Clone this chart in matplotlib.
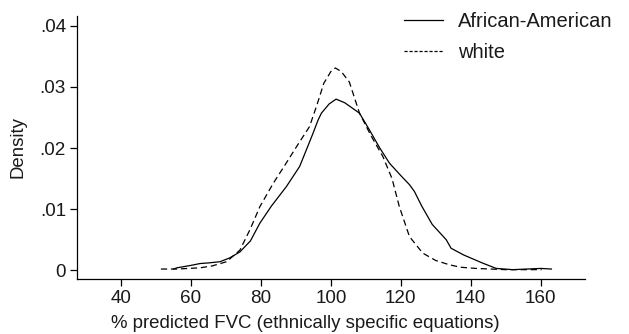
import matplotlib
matplotlib.use("Agg")
import matplotlib.pyplot as plt
from matplotlib.lines import Line2D
from matplotlib.ticker import FuncFormatter

plt.rcParams['font.family'] = ['Liberation Sans', 'DejaVu Sans']

# African-American (solid)
aa_x = [55, 56, 60, 62.6, 65, 68.3, 71, 74, 77, 79.7, 83, 87.3, 91.1, 94.9, 96.3, 97.3, 99.5, 101.5,
        104, 108.2, 111, 114, 116.8, 120, 122.5, 123.9, 126, 129, 133, 134.4, 138, 143.3, 147.3, 152, 156, 160, 163.1]
aa_y = [0.0002, 0.0004, 0.0008, 0.0011, 0.0012, 0.0014, 0.0020, 0.0030, 0.0048, 0.0077, 0.0105, 0.0137, 0.0170,
        0.0224, 0.0245, 0.0257, 0.0272, 0.0280, 0.0274, 0.0257, 0.0230, 0.0200, 0.0175, 0.0155, 0.0140, 0.0129,
        0.0105, 0.0075, 0.0050, 0.0036, 0.0025, 0.0012, 0.0003, 0.0001, 0.0002, 0.0003, 0.0002]

# white (dashed)
wh_x = [51.4, 56, 62.6, 66, 70.2, 74, 77, 79.7, 83.5, 87.2, 90.5, 93.9, 96, 98, 100, 101.3, 103, 105.3,
        108.2, 111.5, 114.9, 117.5, 119.6, 122.5, 126.3, 130, 133.9, 137, 141.5, 150, 160.3]
wh_y = [0.0002, 0.0002, 0.0004, 0.0007, 0.0014, 0.0033, 0.0068, 0.0104, 0.0142, 0.0175, 0.0205, 0.0235, 0.0270,
        0.0306, 0.0325, 0.0331, 0.0325, 0.0308, 0.0257, 0.0220, 0.0186, 0.0150, 0.0104, 0.0055, 0.0028, 0.0016,
        0.0009, 0.0005, 0.0003, 0.0001, 0.0001]

labels = ['African-American', 'white']
xticks = [40, 60, 80, 100, 120, 140, 160]
yticks = [0, 0.01, 0.02, 0.03, 0.04]

txt = '#1a1a1a'
fig = plt.figure(figsize=(6.29, 3.34), dpi=100)
ax = fig.add_axes([77/629, 1 - 279/334, (585-77)/629, (279-16)/334])

ax.plot(aa_x, aa_y, color='black', lw=0.9, ls='-')
ax.plot(wh_x, wh_y, color='black', lw=0.9, ls=(0, (5, 3)))

ax.set_xlim(27.4, 172.7)
ax.set_ylim(-0.00143, 0.0416)
ax.set_xticks(xticks)
ax.set_yticks(yticks)
ax.yaxis.set_major_formatter(FuncFormatter(lambda v, p: '0' if v == 0 else ('%.2f' % v).lstrip('0')))

for s in ['top', 'right']:
    ax.spines[s].set_visible(False)
for s in ['left', 'bottom']:
    ax.spines[s].set_linewidth(0.9)
ax.tick_params(direction='out', length=5, width=0.9, labelsize=13.6, pad=3, colors='black', labelcolor=txt)
ax.set_xlabel('% predicted FVC (ethnically specific equations)', fontsize=13.4, color=txt)
ax.xaxis.set_label_coords((305.5 - 77) / (585 - 77), -(323 - 279) / (279 - 16))
ax.xaxis.label.set_verticalalignment('center')
ax.set_ylabel('Density', fontsize=13.4, color=txt)
ax.yaxis.set_label_coords(-(77 - 18.5) / (585 - 77), (279 - 147.5) / (279 - 16))
ax.yaxis.label.set_verticalalignment('center')

handles = [Line2D([], [], color='black', lw=0.9, ls='-'),
           Line2D([], [], color='black', lw=0.9, ls=(0, (2.5, 1.5)))]
leg = fig.legend(handles, labels, loc='upper left', bbox_to_anchor=(404/629, 1 - 12/334),
                 frameon=False, fontsize=14.5, handlelength=1.95, handletextpad=0.75,
                 labelspacing=0.58, borderpad=0, borderaxespad=0)
for t in leg.get_texts():
    t.set_color(txt)

fig.savefig('out.png', dpi=100)
